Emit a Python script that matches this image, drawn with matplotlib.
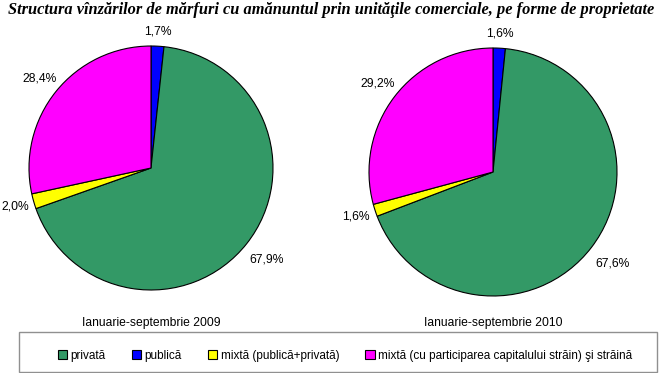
import numpy as np
import matplotlib.pyplot as plt
from matplotlib.patches import Rectangle

W, H = 662, 373

TITLE = 'Structura vînzărilor de mărfuri cu amănuntul prin unităţile comerciale, pe forme de proprietate'
CATEGORIES = ['privată', 'publică', 'mixtă (publică+privată)',
              'mixtă (cu participarea capitalului străin) şi străină']
COLORS = ['#339966', '#0000ff', '#ffff00', '#ff00ff']
PERIODS = ['Ianuarie-septembrie 2009', 'Ianuarie-septembrie 2010']
SHARES_2009 = [67.9, 1.7, 2.0, 28.4]
SHARES_2010 = [67.6, 1.6, 1.6, 29.2]

# pie slices go clockwise from 12 o'clock starting with "publică"
DRAW_ORDER = [1, 0, 2, 3]
# label distance (in radii) for each drawn slice
LABEL_DIST = [1.12, 1.21, 1.16, 1.17]

plt.rcParams['font.family'] = ['Liberation Sans', 'DejaVu Sans']

fig = plt.figure(figsize=(W / 100, H / 100), dpi=100)
ax = fig.add_axes([0, 0, 1, 1])


def fmt(p):
    return '{:.1f}%'.format(p).replace('.', ',')


def draw_pie(ax, shares, cx, cy, r, label):
    vals = [shares[i] for i in DRAW_ORDER]
    cols = [COLORS[i] for i in DRAW_ORDER]
    wedges, _ = ax.pie(
        vals, colors=cols, startangle=90, counterclock=False,
        center=(cx, H - cy), radius=r,
        wedgeprops=dict(edgecolor='black', linewidth=0.8), frame=True)
    for w, v, d in zip(wedges, vals, LABEL_DIST):
        a = np.deg2rad((w.theta1 + w.theta2) / 2)
        ax.text(cx + d * r * np.cos(a), H - cy + d * r * np.sin(a), fmt(v),
                ha='center', va='center', fontsize=8.7)
    ax.text(cx, H - 323, label, ha='center', va='center', fontsize=8.7)
    return wedges


draw_pie(ax, SHARES_2009, 151, 168, 122, PERIODS[0])
draw_pie(ax, SHARES_2010, 493, 172, 124, PERIODS[1])
ax.set_xlim(0, W)
ax.set_ylim(0, H)
ax.set_aspect('equal')
ax.axis('off')

ax.text(W / 2, H - 10, TITLE, ha='center', va='center', fontsize=11.8,
        fontweight='bold', fontstyle='italic', family='Liberation Serif')

# legend frame
ax.add_patch(Rectangle((19, H - 372), 638, 40, fill=False,
                       edgecolor='#909090', linewidth=1.0))
handles = [Rectangle((0, 0), 1, 1, facecolor=c, edgecolor='black', linewidth=0.8)
           for c in COLORS]
ax.legend(handles, CATEGORIES, ncol=4, loc='center',
          bbox_to_anchor=(345 / W, (H - 356) / H), frameon=False,
          fontsize=8.5, handlelength=0.8, handleheight=0.8,
          handletextpad=0.3, columnspacing=2.2)

fig.savefig('out.png', dpi=100)
